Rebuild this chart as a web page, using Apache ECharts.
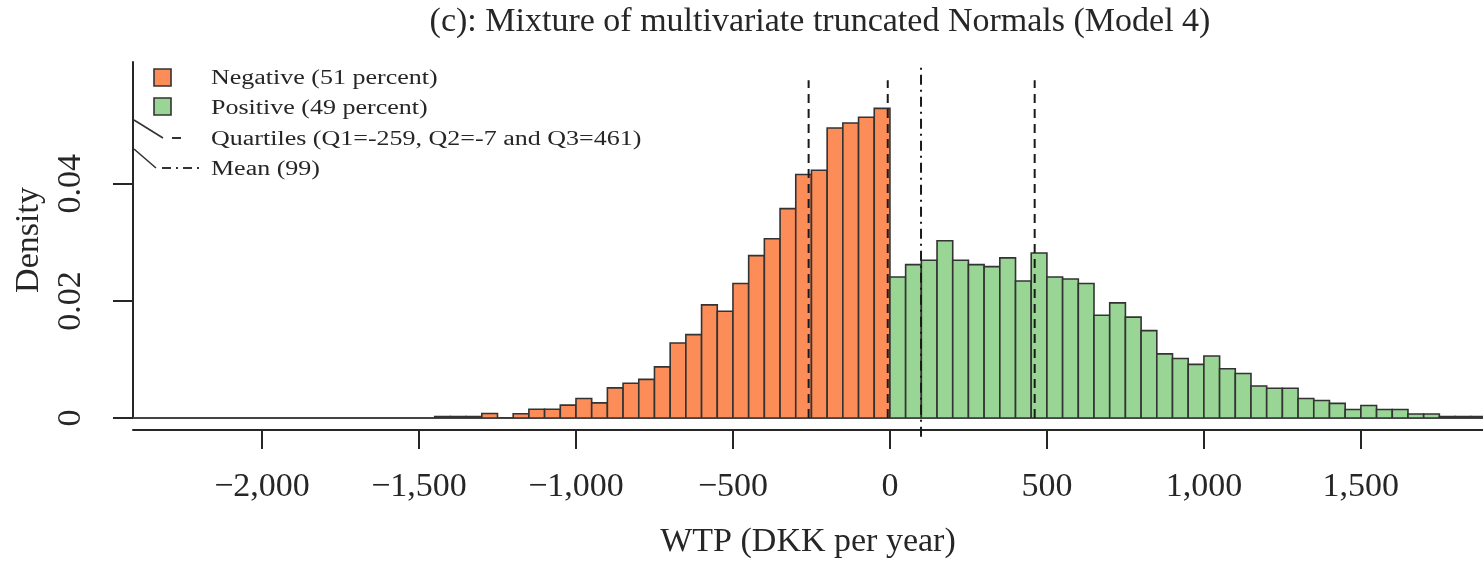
<!DOCTYPE html>
<html>
<head>
<meta charset="utf-8">
<script src="https://cdn.jsdelivr.net/npm/echarts@6/dist/echarts.min.js"></script>
<style>
  html, body { margin: 0; padding: 0; background: #fff; }
  #wtpHist { width: 1483px; height: 564px; }
</style>
</head>
<body>
<div id="wtpHist"></div>
<script>
// histogram bins (width 50 DKK)
var binWidth = 50;
var negStart = -1450;
var negDensity = [0.00025, 0.00025, 0.00025, 0.00078, 0, 0.00072, 0.00150, 0.00150, 0.00220, 0.00332,
                  0.00259, 0.00514, 0.00593, 0.00660, 0.00873, 0.01280, 0.01424, 0.01932, 0.01824, 0.02298,
                  0.02773, 0.03061, 0.03576, 0.04158, 0.04230, 0.04954, 0.05039, 0.05136, 0.05288];
var posStart = 0;
var posDensity = [0.02407, 0.02620, 0.02695, 0.03027, 0.02695, 0.02620, 0.02586, 0.02734, 0.02339, 0.02819,
                  0.02407, 0.02373, 0.02298, 0.01756, 0.01966, 0.01722, 0.01492, 0.01095, 0.01015, 0.00915,
                  0.01060, 0.00841, 0.00760, 0.00547, 0.00508, 0.00508, 0.00332, 0.00300, 0.00250, 0.00146,
                  0.00214, 0.00146, 0.00146, 0.00068, 0.00068, 0.00025, 0.00025, 0.00025];
var quartiles = [-259, -7, 461];
var meanWtp = 99;
var xTicks = [-2000, -1500, -1000, -500, 0, 500, 1000, 1500];
var yTicks = [0, 0.02, 0.04];

var serif = 'Liberation Serif';
var ink = '#262626';

function toBins(start, vals) {
  var out = [];
  for (var i = 0; i < vals.length; i++) {
    out.push([start + i * binWidth, vals[i]]);
  }
  return out;
}

function renderBin(params, api) {
  var x0 = api.value(0);
  var p0 = api.coord([x0, 0]);
  var p1 = api.coord([x0 + binWidth, api.value(1)]);
  return {
    type: 'rect',
    shape: { x: p0[0], y: p1[1], width: p1[0] - p0[0], height: p0[1] - p1[1] },
    style: { fill: api.visual('color'), stroke: '#333', lineWidth: 1.6 }
  };
}

// vertical reference lines: value, bottom, top (density units), dash
function renderVLine(params, api) {
  var a = api.coord([api.value(0), api.value(1)]);
  var b = api.coord([api.value(0), api.value(2)]);
  var dash = api.value(3) === 1 ? [10, 5, 2, 5] : [9, 6];
  return {
    type: 'line',
    shape: { x1: a[0], y1: a[1], x2: b[0], y2: b[1] },
    style: { stroke: '#1a1a1a', lineWidth: 2, lineDash: dash }
  };
}

var vlines = quartiles.map(function (q) { return [q, 0, 0.0577, 0]; });
vlines.push([meanWtp, -0.0032, 0.0602, 1]);

var chartDom = document.getElementById('wtpHist');
var myChart = echarts.init(chartDom);
var option;

var legendFont = '20px "' + serif + '"';

option = {
  animation: false,
  title: {
    text: '(c): Mixture of multivariate truncated Normals (Model 4)',
    left: 815,
    top: 0,
    textAlign: 'center',
    textStyle: { fontFamily: serif, fontSize: 34, fontWeight: 'normal', color: ink }
  },
  grid: { left: 133, right: 0, top: 62, bottom: 143 },
  xAxis: [{
    type: 'value',
    min: -2411,
    max: 1889,
    offset: 12,
    name: 'WTP (DKK per year)',
    nameLocation: 'middle',
    nameGap: 95,
    nameTextStyle: { fontFamily: serif, fontSize: 34, color: ink },
    axisLine: { show: true, onZero: false, lineStyle: { color: ink, width: 2 } },
    axisTick: { show: true, length: 19, customValues: xTicks, lineStyle: { color: ink, width: 2 } },
    axisLabel: {
      customValues: xTicks,
      margin: 40,
      fontFamily: serif,
      fontSize: 34,
      color: ink,
      formatter: function (v) {
        return (v < 0 ? '\u2212' : '') + Math.abs(v).toLocaleString('en-US');
      }
    },
    splitLine: { show: false }
  }, {
    type: 'value',
    min: -2411,
    max: 1889,
    position: 'bottom',
    axisLine: { show: true, onZero: false, lineStyle: { color: '#444', width: 2 } },
    axisTick: { show: false },
    axisLabel: { show: false },
    splitLine: { show: false }
  }],
  yAxis: {
    type: 'value',
    min: 0,
    max: 0.0608,
    name: 'Density',
    nameLocation: 'middle',
    nameGap: 86,
    nameTextStyle: { fontFamily: serif, fontSize: 34, color: ink },
    axisLine: { show: true, onZero: false, lineStyle: { color: ink, width: 2 } },
    axisTick: { show: true, length: 20, customValues: yTicks, lineStyle: { color: ink, width: 2 } },
    axisLabel: {
      customValues: yTicks,
      rotate: 90,
      margin: 45,
      fontFamily: serif,
      fontSize: 34,
      color: ink
    },
    splitLine: { show: false }
  },
  series: [{
    name: 'Negative (51 percent)',
    type: 'custom',
    renderItem: renderBin,
    clip: true,
    itemStyle: { color: '#FC8D59' },
    encode: { x: 0, y: 1 },
    data: toBins(negStart, negDensity),
    z: 2
  }, {
    name: 'Positive (49 percent)',
    type: 'custom',
    renderItem: renderBin,
    clip: true,
    itemStyle: { color: '#99D594' },
    encode: { x: 0, y: 1 },
    data: toBins(posStart, posDensity),
    z: 2
  }, {
    name: 'Quartiles and mean',
    type: 'custom',
    renderItem: renderVLine,
    clip: false,
    encode: { x: 0, y: [1, 2] },
    data: vlines,
    z: 5
  }],
  graphic: [
    { type: 'rect', shape: { x: 154, y: 69, width: 17, height: 17 }, style: { fill: '#FC8D59', stroke: '#333', lineWidth: 1.6 } },
    { type: 'rect', shape: { x: 154, y: 98, width: 17, height: 17 }, style: { fill: '#99D594', stroke: '#333', lineWidth: 1.6 } },
    { type: 'line', shape: { x1: 134, y1: 120, x2: 163, y2: 138 }, style: { stroke: '#333', lineWidth: 1.6 } },
    { type: 'line', shape: { x1: 172, y1: 138, x2: 181, y2: 138 }, style: { stroke: '#333', lineWidth: 2 } },
    { type: 'line', shape: { x1: 134, y1: 149, x2: 156, y2: 168 }, style: { stroke: '#333', lineWidth: 1.6 } },
    { type: 'line', shape: { x1: 162, y1: 168, x2: 200, y2: 168 }, style: { stroke: '#333', lineWidth: 2, lineDash: [9, 5, 2, 5] } },
    { type: 'text', x: 211, y: 79, scaleX: 1.3, style: { text: 'Negative (51 percent)', font: legendFont, fill: ink, textVerticalAlign: 'middle' } },
    { type: 'text', x: 211, y: 109, scaleX: 1.3, style: { text: 'Positive (49 percent)', font: legendFont, fill: ink, textVerticalAlign: 'middle' } },
    { type: 'text', x: 211, y: 140, scaleX: 1.3, style: { text: 'Quartiles (Q1=-259, Q2=-7 and Q3=461)', font: legendFont, fill: ink, textVerticalAlign: 'middle' } },
    { type: 'text', x: 211, y: 170, scaleX: 1.3, style: { text: 'Mean (99)', font: legendFont, fill: ink, textVerticalAlign: 'middle' } }
  ]
};

option && myChart.setOption(option);
</script>
</body>
</html>
